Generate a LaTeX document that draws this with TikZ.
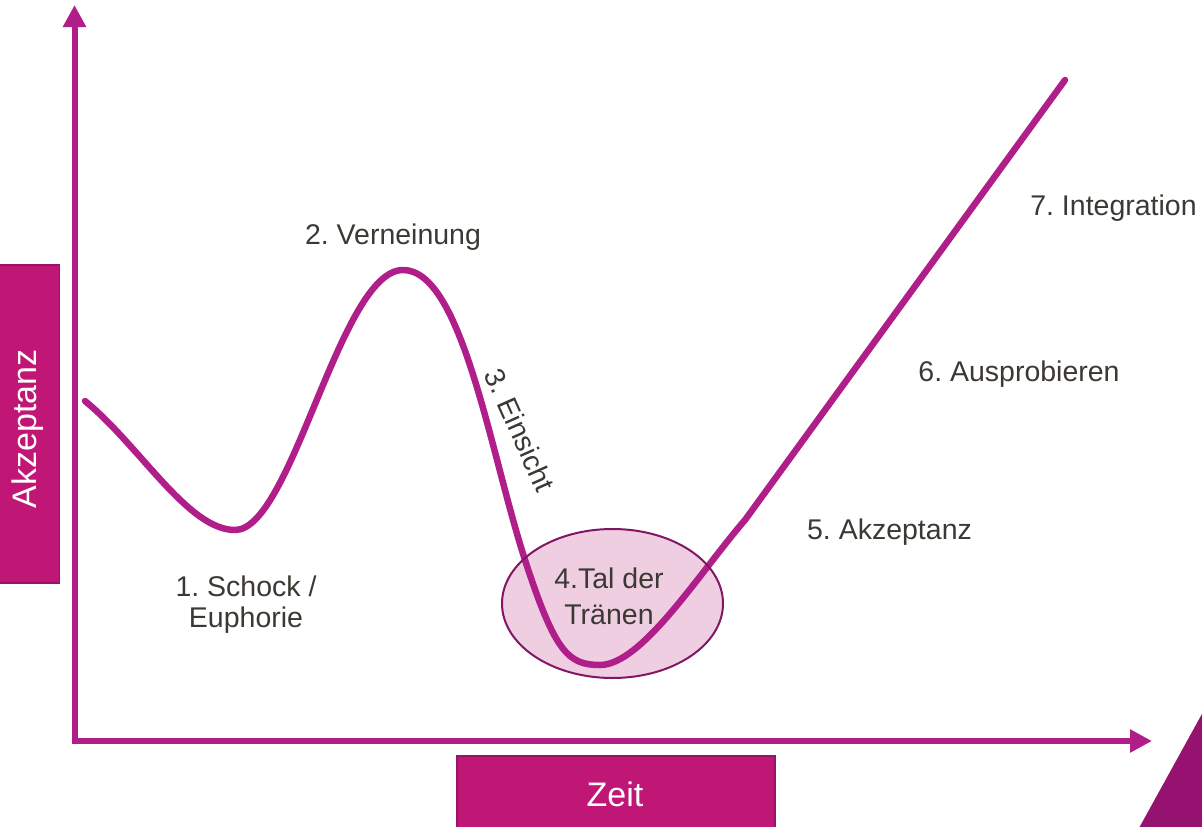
\documentclass[tikz,border=0pt]{standalone}
\usepackage{fontspec}
\setmainfont{Liberation Sans}
\frenchspacing
\usetikzlibrary{arrows.meta,shapes.geometric}
\definecolor{axiscol}{RGB}{176,30,138}
\definecolor{boxcol}{RGB}{192,22,118}
\definecolor{boxedge}{RGB}{150,20,100}
\definecolor{talfill}{RGB}{240,206,226}
\definecolor{taledge}{RGB}{128,22,100}
\definecolor{txtcol}{RGB}{60,56,52}
\definecolor{cornercol}{RGB}{150,18,112}
\tikzset{
  axis/.style={draw=axiscol, line width=6pt, -{Triangle[length=22pt,width=22pt]}},
  curve/.style={draw=axiscol, line width=6.5pt, line cap=round, line join=round},
  labelbox/.style={fill=boxcol, draw=boxedge, line width=1.5pt},
  boxtext/.style={text=white, font=\fontsize{34}{40}\selectfont, inner sep=0pt},
  lbl/.style={text=txtcol, font=\fontsize{28.5}{33}\selectfont, inner sep=0pt},
}
\begin{document}
\begin{tikzpicture}[x=1pt,y=-1pt]
\useasboundingbox (0,0) rectangle (1202,827);
% decorative corner
\fill[cornercol] (1203,712) -- (1139,828) -- (1203,828) -- cycle;
% label boxes
\node[labelbox, minimum width=66pt, minimum height=318pt, inner sep=0pt] (ybox) at (26.5,424) {};
\node[boxtext, rotate=90] (ytext) at (28,429) {Akzeptanz};
\node[labelbox, minimum width=318pt, minimum height=80pt, inner sep=0pt] (xbox) at (616,796) {};
\node[boxtext, anchor=base] (xtext) at (615,806) {Zeit};
% axes
\coordinate (O) at (74.5,744);
\coordinate (ytip) at (74.5,5);
\coordinate (xtip) at (1152,741);
\coordinate (O2) at (71.5,741);
\draw[axis] (O) -- (ytip);
\draw[axis] (O2) -- (xtip);
% valley ellipse (fill)
\node[ellipse, fill=talfill, minimum width=221pt, minimum height=149pt, inner sep=0pt] (talbg) at (612.5,603.5) {};
% curve
\coordinate (c0) at (85,401);
\coordinate (c1) at (235,530);
\coordinate (c2) at (403,270);
\coordinate (c3) at (525,560);
\coordinate (c4) at (600,665);
\coordinate (c5) at (745,520);
\coordinate (c6) at (1065,80);
\draw[curve] (c0) .. controls (140,446) and (188,530) .. (c1)
  .. controls (292,530) and (340,270) .. (c2)
  .. controls (462,270) and (490,452) .. (c3)
  .. controls (555,652) and (568,665) .. (c4)
  .. controls (642,665) and (700,572) .. (c5)
  -- (c6);
% valley ellipse (ring + text)
\node[ellipse, draw=taledge, line width=2pt, minimum width=221pt, minimum height=149pt, inner sep=0pt] (tal) at (612.5,603.5) {};
\node[lbl, align=center, anchor=north, font=\fontsize{28.5}{36}\selectfont] (taltext) at (609,568) {4.Tal der\\Tränen};
% labels
\node[lbl, align=center, anchor=north, font=\fontsize{28.5}{31}\selectfont] (l1) at (246,576) {1. Schock /\\Euphorie};
\node[lbl, anchor=base] (l2) at (393,244) {2. Verneinung};
\node[lbl, rotate=-66] (l3) at (520,430) {3. Einsicht};
\node[lbl, anchor=base] (l5) at (889.5,539) {5. Akzeptanz};
\node[lbl, anchor=base] (l6) at (1019,381) {6. Ausprobieren};
\node[lbl, anchor=base] (l7) at (1113.5,215) {7. Integration};
\end{tikzpicture}
\end{document}
